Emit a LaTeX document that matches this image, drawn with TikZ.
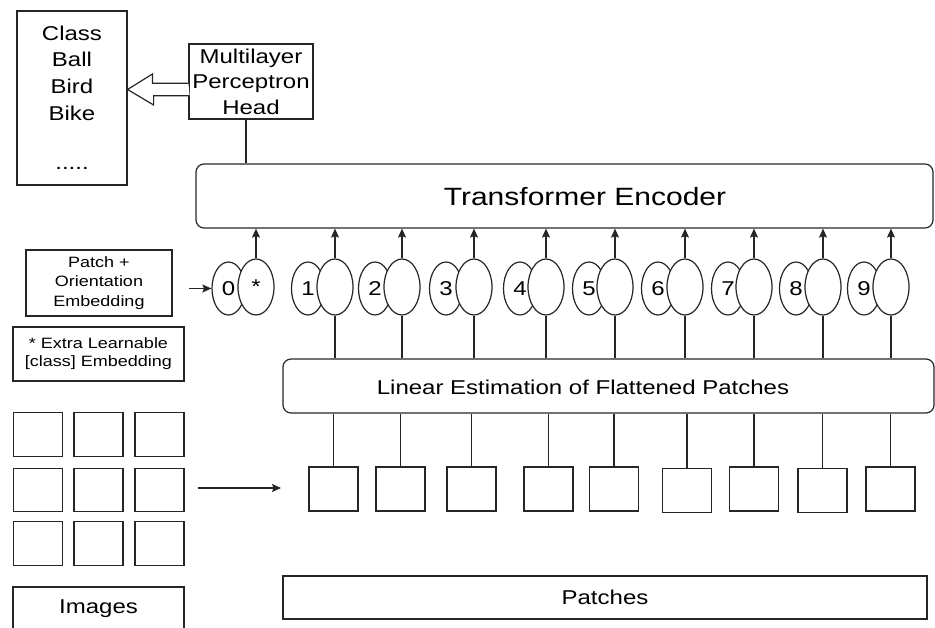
\documentclass[tikz,border=0pt]{standalone}
\usepackage{fontspec}
\setmainfont{Liberation Sans}[FakeStretch=1.2]
\usetikzlibrary{arrows.meta,shapes.geometric,calc}
\definecolor{ink}{HTML}{262626}
\newcommand\fsz[2]{\fontsize{#1}{#2}\selectfont}

\begin{document}
\begin{tikzpicture}[x=1pt,y=-1pt,line width=1.2pt,
  box/.style={draw=ink,rectangle,inner sep=0pt},
  rbox/.style={box,rounded corners=8pt},
  txt/.style={inner sep=0pt,align=center,text=black},
  ell/.style={draw=ink,ellipse,fill=white,inner sep=0pt,text=black,font=\fsz{20}{22}},
  arr/.style={draw=ink,-{Stealth[length=9pt,width=8pt,inset=1.5pt]}},
  wire/.style={draw=ink}]
\useasboundingbox (0,0) rectangle (935,628);

% class list and MLP head
\node[box,minimum width=110,minimum height=174] (cls) at (72,98) {};
\node[txt,font=\fsz{20}{26.7}] (clstxt) at (72,73) {Class\\Ball\\Bird\\Bike};
\node[txt,font=\fsz{20}{24}] (dots) at (72,168) {.....};
\node[box,minimum width=124,minimum height=75,font=\fsz{20}{25.5},align=center] (mlp) at (251,81.5) {Multilayer\\Perceptron\\Head};

% hollow block arrow from the head to the class list
\coordinate (hs) at ([yshift=-8pt]mlp.west);
\coordinate (ht) at (cls.east |- hs);
\draw[draw=ink,fill=white,line join=miter] (hs) ++(0,-6.2) -- ++(-36,0) -- ++(0,-9.3) -- (ht)
  -- ++(26,15.5) -- ++(0,-9.3) -- ++(36,0);

% transformer encoder
\node[rbox,minimum width=737,minimum height=64] (enc) at (564.5,196) {};
\node[txt,font=\fsz{25}{30}] (enctxt) at (585,197) {Transformer Encoder};
\draw[wire] ([xshift=-5pt]mlp.south) -- ([xshift=-5pt]mlp.south |- enc.north);

% side notes
\node[box,minimum width=146,minimum height=66,font=\fsz{15}{19.5},align=center] (poe) at (99,283) {Patch +\\Orientation\\Embedding};
\node[box,minimum width=171,minimum height=54,font=\fsz{15}{18},align=center] (xcls) at (98.5,354) {* Extra Learnable\\{[class]} Embedding};

% embedding tokens
\foreach \d/\xl/\xr/\s in {0/228.5/256/*,1/308/335/{},2/375/402/{},3/446/474/{},4/520/546/{},
    5/589/615/{},6/658/685/{},7/728/754/{},8/796/823/{},9/864/891/{}}{
  \node[ell,minimum width=33,minimum height=53] (L\d) at (\xl,288.5) {\d};
  \node[ell,minimum width=36,minimum height=56] (R\d) at (\xr,287) {\s};
  \draw[arr] (R\d.north) -- (R\d.north |- enc.south);
}
\coordinate (pin) at (189,288.5);
\draw[arr] (pin) -- (L0.west);

% linear projection
\node[rbox,minimum width=651,minimum height=54] (lin) at (608.5,386) {};
\node[txt,font=\fsz{20}{24}] (lintxt) at (583,387) {Linear Estimation of Flattened Patches};
\foreach \d in {1,...,9}{
  \draw[wire] (R\d.south) -- (R\d.south |- lin.north);
}

% flattened patches
\foreach \i/\x/\y in {1/333.5/489,2/400.5/489,3/471.5/489,4/548.5/489,5/614/489,
    6/687/490.5,7/754/489,8/822.5/490.5,9/890.5/489}{
  \node[box,minimum width=49,minimum height=44] (S\i) at (\x,\y) {};
  \draw[wire] (S\i.north) -- (S\i.north |- lin.south);
}
\node[box,minimum width=644,minimum height=43,font=\fsz{20}{24}] (pat) at (605,597.5) {Patches};

% input image split into a 3x3 grid
\foreach \r/\y in {1/434.5,2/490,3/543.5}{
  \foreach \c/\x in {1/38,2/98.5,3/159.5}{
    \node[box,minimum width=49,minimum height=43.5] (G\r\c) at (\x,\y) {};
  }
}
\coordinate (ga) at ([xshift=13pt,yshift=2pt]G23.east);
\coordinate (gb) at (281,488);
\draw[arr] (ga) -- (gb);
\node[box,minimum width=171,minimum height=44,font=\fsz{20}{24}] (img) at (98.5,609) {Images};
\end{tikzpicture}
\end{document}
